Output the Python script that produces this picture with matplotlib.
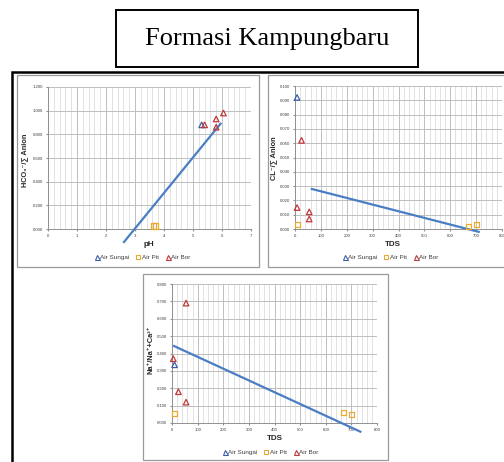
import matplotlib
matplotlib.use('Agg')
import matplotlib.pyplot as plt
from matplotlib.patches import Rectangle
from matplotlib.ticker import MultipleLocator, FormatStrFormatter
from matplotlib.lines import Line2D

plt.rcParams['font.family'] = ['Liberation Sans', 'DejaVu Sans']

W, H = 504, 462

# Grafik 1: pH vs HCO3/Anion
ph_sungai = [5.3]
hco3_sungai = [0.88]
ph_pit = [3.65, 3.7]
hco3_pit = [0.025, 0.025]
ph_bor = [5.4, 5.8, 5.8, 6.05]
hco3_bor = [0.88, 0.93, 0.86, 0.98]
trend1_x = [2.62, 5.95]
trend1_y = [-0.11, 0.89]

# Grafik 2: TDS vs Cl/Anion
tds2_sungai = [8]
cl_sungai = [0.092]
tds2_pit = [10, 670, 700]
cl_pit = [0.003, 0.002, 0.003]
tds2_bor = [25, 8, 55, 55]
cl_bor = [0.062, 0.015, 0.012, 0.007]
trend2_x = [65, 710]
trend2_y = [0.028, -0.002]

# Grafik 3: TDS vs Na/(Na+Ca)
tds3_sungai = [10]
na_sungai = [0.335]
tds3_pit = [10, 670, 700]
na_pit = [0.055, 0.06, 0.05]
tds3_bor = [55, 5, 25, 55]
na_bor = [0.69, 0.37, 0.18, 0.12]
trend3_x = [8, 735]
trend3_y = [0.443, -0.05]

legend_labels = ['Air Sungai', 'Air Pit', 'Air Bor']

c_sungai = '#3A5FA8'
c_pit = '#EBAA2E'
c_bor = '#C0393B'
c_trend = '#4A7EC4'
c_grid = '#D6D6D6'


def fbox(x0, y0, x1, y1):
    # piksel (dari atas) -> koordinat figure
    return [x0 / W, 1 - y1 / H, (x1 - x0) / W, (y1 - y0) / H]


def rect(fig, x0, y0, x1, y1, color, lw):
    b = fbox(x0, y0, x1, y1)
    fig.add_artist(Rectangle((b[0], b[1]), b[2], b[3], transform=fig.transFigure,
                             fill=False, edgecolor=color, linewidth=lw))


def panel(fig, box, xs, ys, trend, xlim, ylim, xmaj, xmin, ymaj, xlabel, ylabel,
          xl_pos, yl_pos, lg_pos):
    ax = fig.add_axes(fbox(*box))
    ax.set_xlim(*xlim)
    ax.set_ylim(*ylim)
    ax.xaxis.set_major_locator(MultipleLocator(xmaj))
    ax.xaxis.set_minor_locator(MultipleLocator(xmin))
    ax.yaxis.set_major_locator(MultipleLocator(ymaj))
    ax.yaxis.set_major_formatter(FormatStrFormatter('%.3f'))
    ax.grid(True, which='major', color='#BEBEBE', linewidth=0.7)
    ax.grid(True, which='minor', axis='x', color=c_grid, linewidth=0.5)
    ax.set_axisbelow(True)
    for s in ['top', 'right']:
        ax.spines[s].set_visible(False)
    for s in ['left', 'bottom']:
        ax.spines[s].set_color('#909090')
        ax.spines[s].set_linewidth(0.7)
    ax.tick_params(which='both', length=0, labelsize=3.1, colors='#404040', pad=2)
    ax.tick_params(which='major', length=1.5, color='#909090')

    ax.plot(trend[0], trend[1], color=c_trend, linewidth=1.6, clip_on=False, zorder=3)
    ax.scatter(xs[0], ys[0], marker='^', s=16, facecolors='none', edgecolors=c_sungai,
               linewidths=0.9, zorder=4, clip_on=False)
    ax.scatter(xs[1], ys[1], marker='s', s=14, facecolors='none', edgecolors=c_pit,
               linewidths=0.9, zorder=4, clip_on=False)
    ax.scatter(xs[2], ys[2], marker='^', s=16, facecolors='none', edgecolors=c_bor,
               linewidths=0.9, zorder=4, clip_on=False)

    fig.text(xl_pos[0] / W, 1 - xl_pos[1] / H, xlabel, fontsize=5.8, fontweight='bold',
             ha='center', va='center', color='#262626')
    fig.text(yl_pos[0] / W, 1 - yl_pos[1] / H, ylabel, fontsize=5.3, fontweight='bold',
             ha='center', va='center', rotation=90, color='#262626')

    handles = [
        Line2D([], [], marker='^', linestyle='none', markerfacecolor='none',
               markeredgecolor=c_sungai, markersize=3.6, markeredgewidth=0.8),
        Line2D([], [], marker='s', linestyle='none', markerfacecolor='none',
               markeredgecolor=c_pit, markersize=3.4, markeredgewidth=0.8),
        Line2D([], [], marker='^', linestyle='none', markerfacecolor='none',
               markeredgecolor=c_bor, markersize=3.6, markeredgewidth=0.8),
    ]
    fig.legend(handles, legend_labels, loc='center',
               bbox_to_anchor=(lg_pos[0] / W, 1 - lg_pos[1] / H), ncol=3, frameon=False,
               fontsize=4.6, handletextpad=0.05, columnspacing=0.9, handlelength=1.0,
               labelcolor='#404040')
    return ax


fig = plt.figure(figsize=(W / 100, H / 100), dpi=100)

# judul
rect(fig, 116, 10, 418, 67, 'black', 1.4)
fig.text(267 / W, 1 - 39 / H, 'Formasi Kampungbaru', fontsize=19,
         family=['Liberation Serif', 'DejaVu Serif'], ha='center', va='center')

# bingkai luar
rect(fig, 12, 72, 520, 480, 'black', 1.8)

# bingkai tiap grafik
rect(fig, 17, 75, 259, 267, '#9A9A9A', 0.9)
rect(fig, 268, 75, 530, 267, '#9A9A9A', 0.9)
rect(fig, 143, 274, 388, 460, '#9A9A9A', 0.9)

panel(fig, (48, 87, 251, 229),
      [ph_sungai, ph_pit, ph_bor], [hco3_sungai, hco3_pit, hco3_bor],
      (trend1_x, trend1_y), (0, 7), (0, 1.2), 1, 0.2, 0.2,
      'pH', 'HCO₃⁻/∑ Anion', (149, 245), (25, 160), (142, 257))

panel(fig, (295, 86, 502, 229),
      [tds2_sungai, tds2_pit, tds2_bor], [cl_sungai, cl_pit, cl_bor],
      (trend2_x, trend2_y), (0, 800), (0, 0.1), 100, 20, 0.01,
      'TDS', 'CL⁻/∑ Anion', (393, 244), (274, 158), (390, 257))

panel(fig, (172, 284, 377, 423),
      [tds3_sungai, tds3_pit, tds3_bor], [na_sungai, na_pit, na_bor],
      (trend3_x, trend3_y), (0, 800), (0, 0.8), 100, 20, 0.1,
      'TDS', 'Na⁺/Na⁺+Ca²⁺', (275, 439), (151, 350), (270, 452))

plt.savefig('out.png', dpi=100)
